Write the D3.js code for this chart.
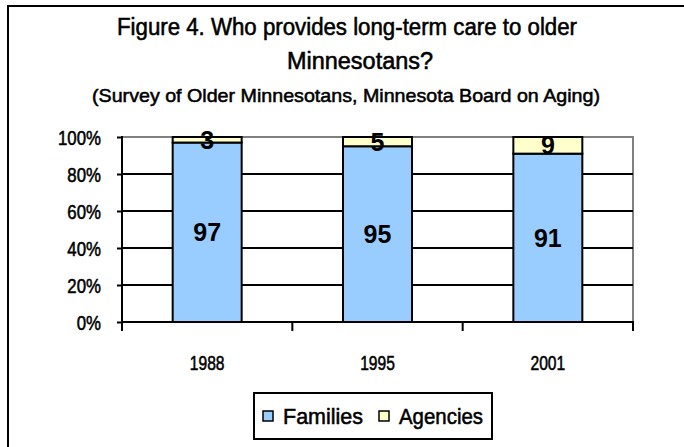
<!DOCTYPE html>
<html>
<head>
<meta charset="utf-8">
<script src="https://cdn.jsdelivr.net/npm/d3@7/dist/d3.min.js"></script>
<style>
  html, body { margin: 0; padding: 0; background: #fff; }
  svg { display: block; }
  text { font-family: "Liberation Sans", Arial, sans-serif; fill: #000; }
  .heavy { stroke: #000; stroke-width: 0.55px; }
  .lbl { font-weight: bold; }
</style>
</head>
<body>
<div id="chart"></div>
<script>
// chart data
var years = ['1988', '1995', '2001'];
var families = [97, 95, 91];
var agencies = [3, 5, 9];
var seriesNames = ['Families', 'Agencies'];
var yTicks = [0, 20, 40, 60, 80, 100];

var W = 684, H = 447;
var colors = { Families: '#99ccff', Agencies: '#ffffcc' };

// squeeze text horizontally to mimic Arial Narrow
function narrow(sel, f) {
  sel.each(function () {
    var len = this.getComputedTextLength();
    d3.select(this).attr('textLength', len * f).attr('lengthAdjust', 'spacingAndGlyphs');
  });
}

var svg = d3.select('#chart').append('svg')
  .attr('width', W).attr('height', H);

svg.append('rect').attr('width', W).attr('height', H).attr('fill', '#fff');

// outer frame (runs off the right/bottom edge)
svg.append('rect')
  .attr('x', 8).attr('y', 6).attr('width', W).attr('height', H)
  .attr('fill', 'none').attr('stroke', '#000').attr('stroke-width', 2);

// titles
var t = svg.append('g').attr('text-anchor', 'middle').attr('class', 'heavy');
t.append('text').attr('x', 347).attr('y', 35).style('font-size', '23px')
  .attr('textLength', 460).attr('lengthAdjust', 'spacingAndGlyphs')
  .text('Figure 4.  Who provides long-term care to older');
t.append('text').attr('x', 360).attr('y', 69).style('font-size', '23px')
  .attr('textLength', 146).attr('lengthAdjust', 'spacingAndGlyphs')
  .text('Minnesotans?');
t.append('text').attr('x', 346).attr('y', 102).style('font-size', '19px')
  .attr('textLength', 508).attr('lengthAdjust', 'spacingAndGlyphs')
  .text('(Survey of Older Minnesotans, Minnesota Board on Aging)');

var plot = { left: 122, right: 633, top: 137, bottom: 322 };

var x = d3.scaleBand().domain(years).range([plot.left, plot.right]).paddingInner(0.595).paddingOuter(0.2975);
var y = d3.scaleLinear().domain([0, 100]).range([plot.bottom, plot.top]);

// plot area border (grey top/right)
svg.append('path')
  .attr('d', 'M' + plot.left + ',' + plot.top + 'H' + plot.right + 'V' + plot.bottom)
  .attr('fill', 'none').attr('stroke', '#808080').attr('stroke-width', 2);

// gridlines
svg.append('g').selectAll('line').data(yTicks.filter(function (d) { return d > 0 && d < 100; })).join('line')
  .attr('x1', plot.left).attr('x2', plot.right)
  .attr('y1', function (d) { return y(d); }).attr('y2', function (d) { return y(d); })
  .attr('stroke', '#000').attr('stroke-width', 2);

// stacked data
var rows = years.map(function (yr, i) { return { year: yr, Families: families[i], Agencies: agencies[i] }; });
var stack = d3.stack().keys(seriesNames)(rows);

var layers = svg.append('g').selectAll('g').data(stack).join('g')
  .attr('fill', function (d) { return colors[d.key]; });
layers.selectAll('rect').data(function (d) { return d; }).join('rect')
  .attr('x', function (d) { return x(d.data.year); })
  .attr('width', x.bandwidth())
  .attr('y', function (d) { return y(d[1]); })
  .attr('height', function (d) { return y(d[0]) - y(d[1]); })
  .attr('stroke', '#000').attr('stroke-width', 2);

// y axis
var yAxis = svg.append('g').attr('transform', 'translate(' + plot.left + ',0)')
  .call(d3.axisLeft(y).tickValues(yTicks).tickSize(5).tickSizeOuter(0).tickFormat(function (d) { return d + '%'; }));
yAxis.select('.domain').remove();
yAxis.selectAll('line').attr('stroke', '#000').attr('stroke-width', 2);
yAxis.attr('font-family', null).attr('font-size', null);
yAxis.selectAll('text').attr('x', -21).attr('dy', '0.36em').attr('class', 'heavy')
  .style('font-size', '20px').call(narrow, 0.84);
svg.append('line').attr('x1', plot.left).attr('x2', plot.left)
  .attr('y1', plot.top - 1).attr('y2', plot.bottom + 9).attr('stroke', '#000').attr('stroke-width', 2);

// x axis
svg.append('line').attr('x1', plot.left).attr('x2', plot.right + 1)
  .attr('y1', plot.bottom).attr('y2', plot.bottom).attr('stroke', '#000').attr('stroke-width', 2);
var step = x.step();
var bounds = d3.range(years.length + 1).map(function (i) { return plot.left + i * step; });
svg.append('g').selectAll('line').data(bounds).join('line')
  .attr('x1', function (d) { return d; }).attr('x2', function (d) { return d; })
  .attr('y1', plot.bottom).attr('y2', plot.bottom + 9)
  .attr('stroke', '#000').attr('stroke-width', 2);
svg.append('g').selectAll('text').data(years).join('text')
  .attr('class', 'heavy')
  .attr('x', function (d) { return x(d) + x.bandwidth() / 2; })
  .attr('y', 370).attr('text-anchor', 'middle')
  .style('font-size', '20px')
  .text(function (d) { return d; })
  .call(narrow, 0.78);

// value labels
layers.selectAll('text').data(function (d) { return d; }).join('text')
  .attr('class', 'lbl')
  .attr('x', function (d) { return x(d.data.year) + x.bandwidth() / 2; })
  .attr('y', function (d) { return (y(d[0]) + y(d[1])) / 2; })
  .attr('dy', '0.36em').attr('text-anchor', 'middle')
  .style('font-size', '25px')
  .text(function (d) { return d[1] - d[0]; });

// legend
var legendW = [80, 84];
var lg = svg.append('g').attr('transform', 'translate(254,393)');
lg.append('rect').attr('width', 238).attr('height', 46)
  .attr('fill', '#fff').attr('stroke', '#000').attr('stroke-width', 2);
var items = lg.selectAll('g').data(seriesNames).join('g')
  .attr('transform', function (d, i) { return 'translate(' + [9, 125][i] + ',0)'; });
items.append('rect').attr('x', 0).attr('y', 18).attr('width', 10).attr('height', 10)
  .attr('fill', function (d) { return colors[d]; }).attr('stroke', '#000').attr('stroke-width', 1.5);
items.append('text').attr('class', 'heavy').attr('x', 20).attr('y', 31)
  .style('font-size', '22px')
  .attr('textLength', function (d, i) { return legendW[i]; }).attr('lengthAdjust', 'spacingAndGlyphs')
  .text(function (d) { return d; });
</script>
</body>
</html>
